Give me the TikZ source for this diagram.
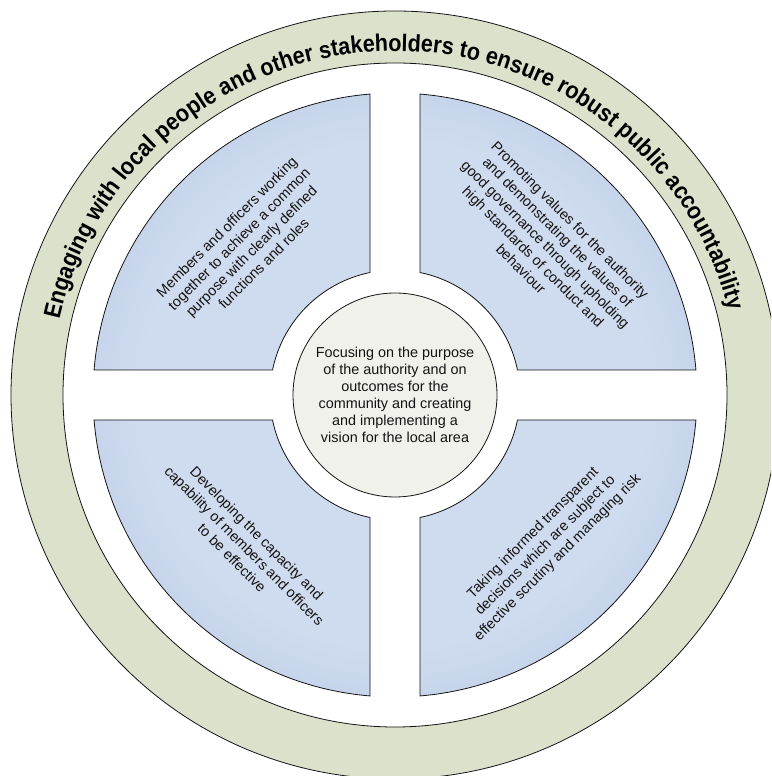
\documentclass[tikz,border=0pt]{standalone}
\usepackage{fontspec}
\setmainfont{Liberation Sans}
\newfontfamily\ringfont{Liberation Sans}[FakeStretch=0.9]
\usetikzlibrary{calc,decorations.text}

\definecolor{ringfill}{RGB}{220,225,204}
\definecolor{hubfill}{RGB}{240,241,234}
\definecolor{secdark}{RGB}{160,183,225}
\definecolor{secmid}{RGB}{184,202,233}
\definecolor{seclight}{RGB}{207,219,238}
\definecolor{inkline}{RGB}{20,20,20}

% light near the hub, darker towards the rim
\pgfdeclareradialshading{petal}{\pgfpoint{0bp}{0bp}}{color(0bp)=(seclight); color(21bp)=(seclight); color(32bp)=(secmid); color(46bp)=(secdark); color(50bp)=(secdark)}

% one quarter of the annulus, in the frame of the hub centre
\newcommand{\petalpath}{(90+\ai:125) arc[start angle=90+\ai, end angle=180-\ai, radius=125]
  -- (180-\ao:302) arc[start angle=180-\ao, end angle=90+\ao, radius=302] -- cycle}

\begin{document}
\begin{tikzpicture}[x=1pt,y=1pt,
  edge/.style={draw=inkline, line width=0.8pt},
  petaltext/.style={text=inkline, align=center, inner sep=0pt,
    font=\fontsize{14.4}{17.4}\selectfont},
  hubtext/.style={text=inkline, align=center, inner sep=0pt,
    font=\fontsize{14.4}{17}\selectfont}]
\useasboundingbox (0,0) rectangle (771,776);
\clip (0,0) rectangle (771,776);
\coordinate (C) at (395,381);

% outer ring
\fill[ringfill, even odd rule] (C) circle[radius=384] (C) circle[radius=332];
\draw[edge] (C) circle[radius=384];
\draw[edge] (C) circle[radius=332];

% four quarter petals
\pgfmathsetmacro{\ai}{asin(25/125)}
\pgfmathsetmacro{\ao}{asin(25/302)}
\foreach \rot in {0,90,180,270}{
  \begin{scope}[shift={(395,381)}, rotate=\rot]
    \clip \petalpath;
    \shade[shading=petal] (0,0) circle[radius=302];
  \end{scope}
  \begin{scope}[shift={(395,381)}, rotate=\rot]
    \draw[edge] \petalpath;
  \end{scope}
}

% hub
\node[circle, minimum size=204pt, inner sep=0pt, fill=hubfill, edge] (hub) at (C) {};
\node[hubtext] (hubtxt) at (C) {Focusing on the purpose\\of the authority and on\\outcomes for the\\community and creating\\and implementing a\\vision for the local area};

% petal labels
\node[petaltext, rotate=45] (tl) at ($(C)+(135:212)$) {Members and officers working\\together to achieve a common\\purpose with clearly defined\\functions and roles};
\node[petaltext, rotate=-45] (tr) at ($(C)+(45:213)$) {Promoting values for the authority\\and demonstrating the values of\\good governance through upholding\\high standards of conduct and\\behaviour};
\node[petaltext, rotate=-45] (bl) at ($(C)+(225:213)$) {Developing the capacity and\\capability of members and officers\\to be effective};
\node[petaltext, rotate=45] (br) at ($(C)+(315:213)$) {Taking informed transparent\\decisions which are subject to\\effective scrutiny and managing risk};

% curved title on the ring
\path[decorate, decoration={text along path, text align=center,
  text={|\ringfont\bfseries\fontsize{24}{28}\selectfont|Engaging with local people and other stakeholders to ensure robust public accountability}}]
  ($(C)+(179.5:344)$) arc[start angle=179.5, end angle=2, radius=344];
\end{tikzpicture}
\end{document}
